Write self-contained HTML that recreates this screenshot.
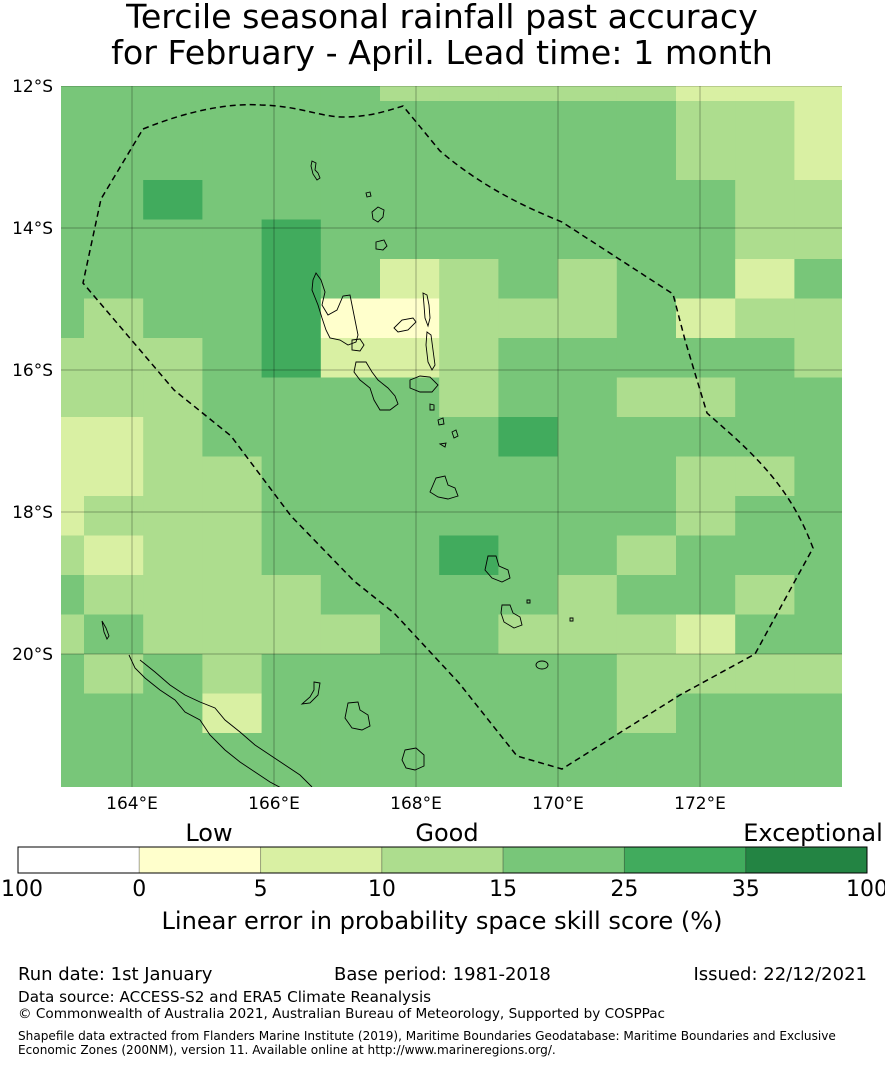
<!DOCTYPE html>
<html><head><meta charset="utf-8">
<style>
html,body{margin:0;padding:0;background:#fff;}
body{width:885px;height:1065px;overflow:hidden;font-family:"DejaVu Sans","Liberation Sans",sans-serif;}
svg text{font-family:"DejaVu Sans","Liberation Sans",sans-serif;}
</style></head>
<body>
<svg id="chart" width="885" height="1065" viewBox="0 0 885 1065" xmlns="http://www.w3.org/2000/svg">
<text x="442" y="28" font-size="33.3" text-anchor="middle">Tercile seasonal rainfall past accuracy</text>
<text x="442" y="64" font-size="33.3" text-anchor="middle">for February - April. Lead time: 1 month</text>
<defs><clipPath id="mapclip"><rect x="61" y="86" width="781" height="701"/></clipPath></defs>
<g id="map" clip-path="url(#mapclip)">
  <g id="cells"></g>
  <g id="grid"></g>
  <g id="islands" fill="none" stroke="#000" stroke-width="0.9">
    <path d="M312,161 L316,163 L315,170 L318,173 L320,178 L317,180 L313,174 L311,166Z"/>
    <path d="M372,212 L378,207 L384,210 L383,217 L378,222 L373,219Z"/>
    <path d="M366,193 L370,192 L371,196 L367,197Z"/>
    <path d="M376,242 L384,240 L387,246 L383,250 L376,249Z"/>
    <path d="M316,273 L321,280 L325,292 L322,305 L328,315 L337,310 L343,296 L350,295 L352,305 L355,320 L358,335 L356,342 L348,345 L340,340 L330,338 L326,330 L322,318 L318,305 L312,290 L313,280Z"/>
    <path d="M352,340 L360,339 L364,345 L360,351 L352,350Z"/>
    <path d="M394,328 L402,320 L413,318 L416,322 L408,330 L398,332Z"/>
    <path d="M423,293 L427,295 L429,305 L430,318 L428,326 L425,318 L424,305Z"/>
    <path d="M427,332 L431,335 L433,350 L435,365 L432,370 L428,362 L426,345Z"/>
    <path d="M356,362 L366,362 L372,372 L378,380 L388,388 L395,396 L398,404 L390,410 L380,410 L374,400 L370,388 L360,380 L354,372Z"/>
    <path d="M410,380 L420,376 L430,377 L438,385 L432,392 L420,392 L410,388Z"/>
    <path d="M430,404 L434,405 L434,410 L430,410Z M438,420 L443,418 L444,424 L439,425Z"/>
    <path d="M452,432 L456,430 L458,436 L454,438Z M440,444 L446,443 L445,447Z"/>
    <path d="M436,478 L445,476 L448,485 L455,488 L458,496 L448,499 L438,497 L430,492 L433,485Z"/>
    <path d="M488,556 L496,556 L499,566 L508,570 L510,578 L502,582 L492,578 L485,570Z"/>
    <path d="M502,605 L510,605 L513,613 L520,617 L522,625 L514,628 L504,622 L501,613Z"/>
    <path d="M536,665 A6,4 0 1,0 548,665 A6,4 0 1,0 536,665Z"/>
    <path d="M527,600 L530,600 L530,603 L527,603Z M570,618 L573,618 L573,621 L570,621Z"/>
    <path d="M129,655 L135,668 L145,678 L160,690 L175,700 L185,712 L200,720 L210,735 L225,750 L240,762 L255,772 L270,782 L285,790 M140,660 L155,672 L170,685 L185,695 L200,702 L215,708 L225,720 L240,732 L255,745 L270,755 L285,765 L300,775 L312,787"/>
    <path d="M102,621 L106,628 L109,636 L107,639 L104,632Z"/>
    <path d="M314,682 L320,683 L318,695 L310,703 L302,704 L310,697 L314,690Z"/>
    <path d="M348,703 L358,702 L360,710 L368,715 L370,726 L362,730 L352,728 L345,718Z"/>
    <path d="M405,750 L416,748 L424,755 L424,766 L415,770 L406,768 L402,760Z"/>
  </g>
  <path id="eez" fill="none" stroke="#000" stroke-width="1.5" stroke-dasharray="6,4"
    d="M143,129 C190,110 230,103 261,105 C300,106 320,117 344,117 C370,117 390,110 403,106 L440,151 C480,185 520,205 562,222 L673,294 L685,340 L697,380 L707,413 L733,436 C770,470 795,500 813,548 L755,654 L680,695 L562,769 L517,756 L459,683 L394,613 L354,581 L291,516 L231,436 L174,390 L83,283 L101,199 Z"/>
</g>
<g id="axislabels" font-size="17"></g>
<g id="colorbar"></g>
<text x="209" y="841" font-size="24" text-anchor="middle">Low</text>
<text x="447" y="841" font-size="24" text-anchor="middle">Good</text>
<text x="813" y="841" font-size="24" text-anchor="middle">Exceptional</text>
<text x="442" y="929" font-size="24.1" text-anchor="middle">Linear error in probability space skill score (%)</text>
<text x="18" y="980" font-size="18">Run date: 1st January</text>
<text x="334" y="980" font-size="18">Base period: 1981-2018</text>
<text x="867" y="980" font-size="18" text-anchor="end">Issued: 22/12/2021</text>
<text x="18" y="1002" font-size="15.2">Data source: ACCESS-S2 and ERA5 Climate Reanalysis</text>
<text x="18" y="1018" font-size="13.6">© Commonwealth of Australia 2021, Australian Bureau of Meteorology, Supported by COSPPac</text>
<text x="18" y="1040" font-size="12.1">Shapefile data extracted from Flanders Marine Institute (2019), Maritime Boundaries Geodatabase: Maritime Boundaries and Exclusive</text>
<text x="18" y="1054" font-size="12.1">Economic Zones (200NM), version 11. Available online at http://www.marineregions.org/.</text>
</svg>
<script>
// ---- data ----
const rows = [
"DDDDDDCCCCCBBB",
"DDDDDDDDDDDCCB",
"DDDDDDDDDDDCCB",
"DDEDDDDDDDDDCC",
"DDDDEDDDDDDDCC",
"DDDDEDBCDCDDBD",
"DCDDEAACCCDBCC",
"CCCDEBBCDDDDDC",
"CCCDDDDCDDCCDD",
"BBCDDDDDEDDDDD",
"BBCCDDDDDDDCCD",
"BCCCDDDDDDDCDD",
"CBCCDDDEDDCDDD",
"DCCCCDDDDCDDCD",
"CDCCCCDDCCCBDD",
"DCDCDDDDDDCCCC",
"DDDBDDDDDDCDDD",
"DDDDDDDDDDDDDD",
"DDDDDDDDDDDDDD"];
const binCodes = ["W","A","B","C","D","E","F"];
const binColors = ["#ffffff","#ffffcc","#d9f0a3","#addd8e","#78c679","#41ab5d","#238443"];
const binEdges = ["-100","0","5","10","15","25","35","100"];
const lonTicks = [164,166,168,170,172];
const latTicks = [12,14,16,18,20];
// ---- geo axes ----
const lon0=163, lat0=12, pxPerDeg=71;
function xOf(lon){return 61+(lon-lon0)*pxPerDeg;}
function yOf(lat){return 86+(lat-lat0)*pxPerDeg;}
const cellW=59.2, cellH=39.5, cellX0=84-cellW, cellY0=101-cellH;
const NS="http://www.w3.org/2000/svg";
function mk(t,a){const e=document.createElementNS(NS,t);for(const k in a)e.setAttribute(k,a[k]);return e;}
const cells=document.getElementById('cells');
rows.forEach((row,r)=>{for(let c=0;c<row.length;c++){
  const i=binCodes.indexOf(row[c]);
  const e=mk('rect',{x:cellX0+c*cellW,y:cellY0+r*cellH,width:cellW+0.6,height:cellH+0.6,fill:binColors[i]});
  
  
  cells.appendChild(e);
}});
const grid=document.getElementById('grid');
lonTicks.forEach(v=>{const e=mk('line',{x1:xOf(v),x2:xOf(v),y1:86,y2:787,stroke:'#000','stroke-opacity':0.3,'stroke-width':1});
  
  
  grid.appendChild(e);});
latTicks.forEach(v=>{const e=mk('line',{x1:61,x2:842,y1:yOf(v),y2:yOf(v),stroke:'#000','stroke-opacity':0.3,'stroke-width':1});
  
  
  grid.appendChild(e);});
const al=document.getElementById('axislabels');
lonTicks.forEach(v=>{const e=mk('text',{x:xOf(v),y:809,'text-anchor':'middle'});e.textContent=v+'°E';
  
  
  al.appendChild(e);});
latTicks.forEach(v=>{const e=mk('text',{x:53,y:yOf(v)+6,'text-anchor':'end'});e.textContent=v+'°S';
  
  
  al.appendChild(e);});
// ---- colorbar ----
const cb=document.getElementById('colorbar');
const cbX=18,cbW=849,cbY=847,cbH=26,seg=cbW/binColors.length;
binColors.forEach((col,i)=>{const e=mk('rect',{x:cbX+i*seg,y:cbY,width:seg,height:cbH,fill:col,stroke:'#000','stroke-opacity':0.25,'stroke-width':1});
  
  
  cb.appendChild(e);});
const fr=mk('rect',{x:cbX,y:cbY,width:cbW,height:cbH,fill:'none',stroke:'#000','stroke-width':1});


cb.appendChild(fr);
binEdges.forEach((t,i)=>{const e=mk('text',{x:cbX+i*seg,y:896,'font-size':22,'text-anchor':'middle'});e.textContent=t;
  
  
  cb.appendChild(e);});
</script>
</body></html>
